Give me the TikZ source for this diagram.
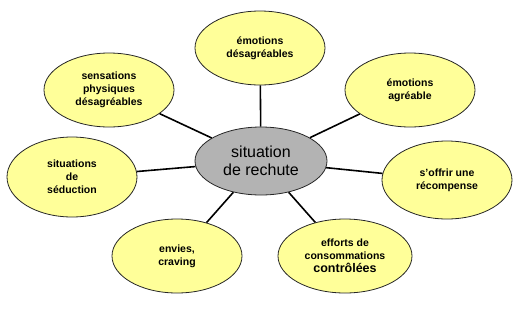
\documentclass[tikz,border=0pt]{standalone}
\usepackage{fontspec}
\setmainfont{Liberation Sans}
\definecolor{paleyellow}{RGB}{255,255,153}
\definecolor{midgray}{RGB}{179,179,179}
\usetikzlibrary{shapes.geometric}

\begin{document}
\begin{tikzpicture}[
  x=1pt, y=-1pt,
  bubble/.style={ellipse, draw=black!85, line width=0.8pt, fill=paleyellow,
                 align=center, inner sep=0pt, minimum width=130pt, minimum height=74pt,
                 font=\fontsize{10.5}{13}\selectfont\bfseries},
  link/.style={line width=1.6pt, black}
]
  \useasboundingbox (0,0) rectangle (520,309);

  % Centre
  \node[ellipse, draw=black!85, line width=0.8pt, fill=midgray, align=center,
        inner sep=0pt, minimum width=132pt, minimum height=68pt,
        font=\fontsize{16}{18}\selectfont] (chute)
    at (261,161) {situation\\de rechute};

  % Surrounding situations
  \node[bubble] (desagr) at (260,48) {émotions\\désagréables};
  \node[bubble] (agr) at (410,90) {émotions\\agréable};
  \node[bubble] (sens) at (109,90) {sensations\\physiques\\désagréables};
  \node[bubble, minimum height=80pt] (seduc) at (72,177) {situations\\de\\séduction};
  \node[bubble, minimum height=78pt] (recomp) at (447,180) {s’offrir une\\récompense};
  \node[bubble] (envies) at (177,256) {envies,\\craving};
  \node[bubble, minimum width=134pt] (efforts) at (345,256)
    {efforts de\\consommations\\{\fontsize{12.5}{14}\selectfont contrôlées}};

  % Links
  \foreach \n in {desagr, agr, sens, seduc, recomp, envies, efforts}
    \draw[link] (chute) -- (\n);
\end{tikzpicture}
\end{document}
